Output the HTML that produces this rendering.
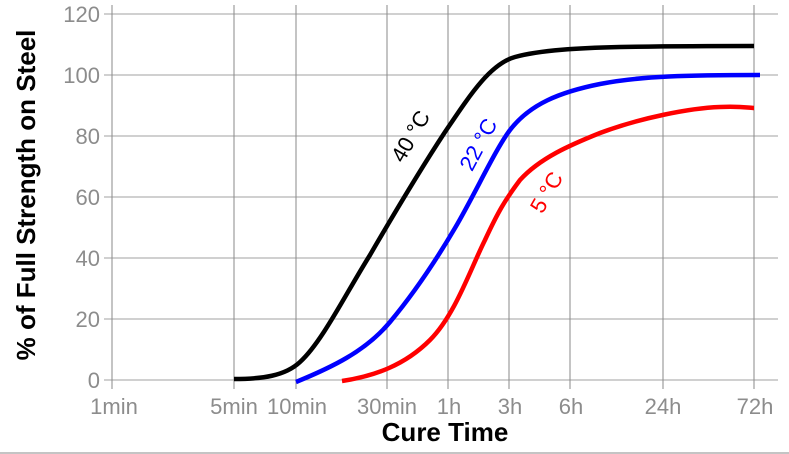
<!DOCTYPE html>
<html><head><meta charset="utf-8"><style>body{margin:0;background:#fff}svg{display:block}</style></head><body>
<svg width="789" height="454" viewBox="0 0 789 454" xmlns="http://www.w3.org/2000/svg" font-family="Liberation Sans, Arial, sans-serif">
<rect width="789" height="454" fill="#fff"/>
<g stroke="#b4b4b4" stroke-width="1.3">
<line x1="104" y1="14" x2="778" y2="14"/><line x1="104" y1="75" x2="778" y2="75"/>
<line x1="104" y1="136" x2="778" y2="136"/><line x1="104" y1="197" x2="778" y2="197"/>
<line x1="104" y1="258" x2="778" y2="258"/><line x1="104" y1="319" x2="778" y2="319"/>
<line x1="104" y1="380" x2="778" y2="380"/>
</g>
<g stroke="#8a8a8a" stroke-width="1">
<line x1="112" y1="5" x2="112" y2="389"/><line x1="234" y1="5" x2="234" y2="389"/>
<line x1="296" y1="5" x2="296" y2="389"/><line x1="387" y1="5" x2="387" y2="389"/>
<line x1="448" y1="5" x2="448" y2="389"/><line x1="509" y1="5" x2="509" y2="389"/>
<line x1="570" y1="5" x2="570" y2="389"/><line x1="663" y1="5" x2="663" y2="389"/>
<line x1="754" y1="5" x2="754" y2="389"/>
</g>
<g fill="#8c8c8c" font-size="22" text-anchor="end">
<text x="100" y="22">120</text><text x="100" y="83">100</text><text x="100" y="144">80</text>
<text x="100" y="205">60</text><text x="100" y="266">40</text><text x="100" y="327">20</text><text x="100" y="388">0</text>
</g>
<g fill="#8c8c8c" font-size="22" text-anchor="middle">
<text x="114" y="414">1min</text><text x="234" y="414">5min</text><text x="297" y="414">10min</text>
<text x="387" y="414">30min</text><text x="449" y="414">1h</text><text x="510" y="414">3h</text>
<text x="571" y="414">6h</text><text x="663" y="414">24h</text><text x="755" y="414">72h</text>
</g>
<text x="445" y="441" font-size="26" font-weight="bold" text-anchor="middle">Cure Time</text>
<text transform="translate(35,195) rotate(-90)" font-size="26" font-weight="bold" text-anchor="middle">% of Full Strength on Steel</text>
<g fill="none" stroke-width="4.5" stroke-linecap="butt">
<path stroke="#000" d="M234,379 C262,379 285,376 300,362 C322,342 345,295 370,255 C395,212 420,170 445,132 C470,95 490,64 515,57 C540,50 580,48 620,47 C680,46 730,46 754,46"/>
<path stroke="#0000ff" d="M296,382 C330,368 365,352 390,322 C415,292 435,262 455,228 C475,194 495,150 510,130 C530,104 560,92 600,84 C640,76 690,75 760,75"/>
<path stroke="#ff0000" d="M342,381 C375,376 405,365 430,340 C455,315 470,270 485,240 C498,212 505,200 520,180 C540,158 570,145 600,133 C640,118 690,108 720,107 C740,106 750,108 754,108"/>
</g>
<text transform="translate(417,140) rotate(-60)" font-size="22" text-anchor="middle" fill="#000">40 °C</text>
<text transform="translate(485,148) rotate(-62)" font-size="22" text-anchor="middle" fill="#0000ff">22 °C</text>
<text transform="translate(553,196) rotate(-60)" font-size="22" text-anchor="middle" fill="#ff0000">5 °C</text>
<line x1="0" y1="453" x2="789" y2="453" stroke="#888" stroke-width="1"/>
</svg>
</body></html>
